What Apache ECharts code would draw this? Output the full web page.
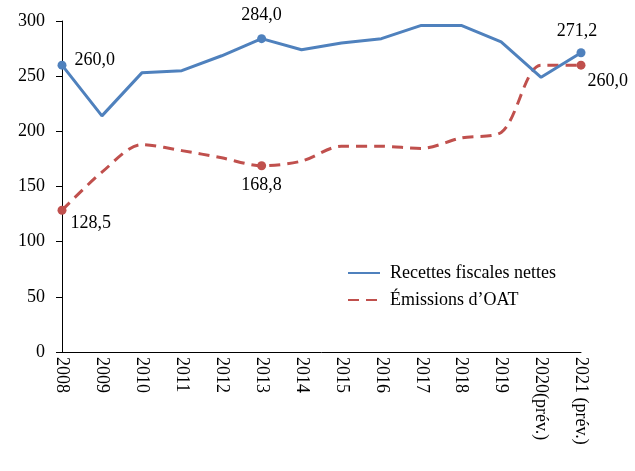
<!DOCTYPE html>
<html>
<head>
<meta charset="utf-8">
<script src="https://cdn.jsdelivr.net/npm/echarts@6/dist/echarts.min.js"></script>
<style>
  html, body { margin: 0; padding: 0; background: #fff; }
  #chart { width: 635px; height: 471px; }
</style>
</head>
<body>
<div id="chart"></div>
<script>
var years = ['2008', '2009', '2010', '2011', '2012', '2013', '2014', '2015', '2016', '2017', '2018', '2019', '2020(prév.)', '2021 (prév.)']
var recettes = [260.0, 214, 253, 255, 268.5, 284.0, 274, 280, 284, 296, 296, 281, 249, 271.2]
var emissions = [128.5, 163, 188, 182.5, 176, 168.8, 173, 186.5, 186.5, 184.5, 194, 199, 260, 260.0]
var yTicks = [0, 50, 100, 150, 200, 250, 300]
var markedIdx = [0, 5, 13]

var FONT = 'Liberation Serif'
var FS = 18

function fmt(v) {
  return v.toFixed(1).replace('.', ',')
}

// only the labelled years get a dot + value
function buildData(values, labelPos) {
  return values.map(function (v, i) {
    var k = markedIdx.indexOf(i)
    if (k < 0) return v
    return {
      value: v,
      symbol: 'circle',
      symbolSize: 9,
      label: Object.assign({
        show: true,
        formatter: function (p) { return fmt(p.value) },
        color: '#000',
        fontFamily: FONT,
        fontSize: FS
      }, labelPos[k])
    }
  })
}

var chart = echarts.init(document.getElementById('chart'))

chart.setOption({
  backgroundColor: '#fff',
  animation: false,
  grid: {
    left: 62,
    right: 54,
    top: 21,
    bottom: 119,
    containLabel: false
  },
  legend: {
    orient: 'vertical',
    left: 342,
    top: 259,
    itemWidth: 32,
    itemHeight: 14,
    itemGap: 9,
    itemStyle: { opacity: 0 },
    textStyle: {
      fontFamily: FONT,
      fontSize: FS,
      color: '#000',
      padding: [0, 0, 0, 5]
    },
    data: ['Recettes fiscales nettes', 'Émissions d’OAT']
  },
  xAxis: {
    type: 'category',
    boundaryGap: false,
    data: years,
    axisLine: { lineStyle: { color: '#000', width: 1 } },
    axisTick: { show: false },
    axisLabel: {
      rotate: -90,
      interval: 0,
      margin: 5,
      color: '#000',
      fontFamily: FONT,
      fontSize: FS
    }
  },
  yAxis: {
    type: 'value',
    min: yTicks[0],
    max: yTicks[yTicks.length - 1],
    interval: 50,
    axisLine: { show: true, lineStyle: { color: '#000', width: 1 } },
    axisTick: { show: true, length: 6, lineStyle: { color: '#000' } },
    splitLine: { show: false },
    axisLabel: {
      margin: 17,
      color: '#000',
      fontFamily: FONT,
      fontSize: FS
    }
  },
  series: [{
    name: 'Recettes fiscales nettes',
    type: 'line',
    symbol: 'none',
    lineStyle: { color: '#4F81BD', width: 3 },
    itemStyle: { color: '#4F81BD' },
    data: buildData(recettes, [
      { position: 'right', distance: 8, offset: [0, -5] },
      { position: 'top', distance: 10 },
      { position: 'top', distance: 8, offset: [-4, 0] }
    ]),
    z: 3
  }, {
    name: 'Émissions d’OAT',
    type: 'line',
    smooth: 0.3,
    symbol: 'none',
    lineStyle: { color: '#C0504D', width: 3, type: [11, 7] },
    itemStyle: { color: '#C0504D' },
    data: buildData(emissions, [
      { position: 'right', distance: 4, offset: [0, 13] },
      { position: 'bottom', distance: 6 },
      { position: 'right', distance: 2, offset: [0, 16] }
    ]),
    z: 2
  }]
})
</script>
</body>
</html>
